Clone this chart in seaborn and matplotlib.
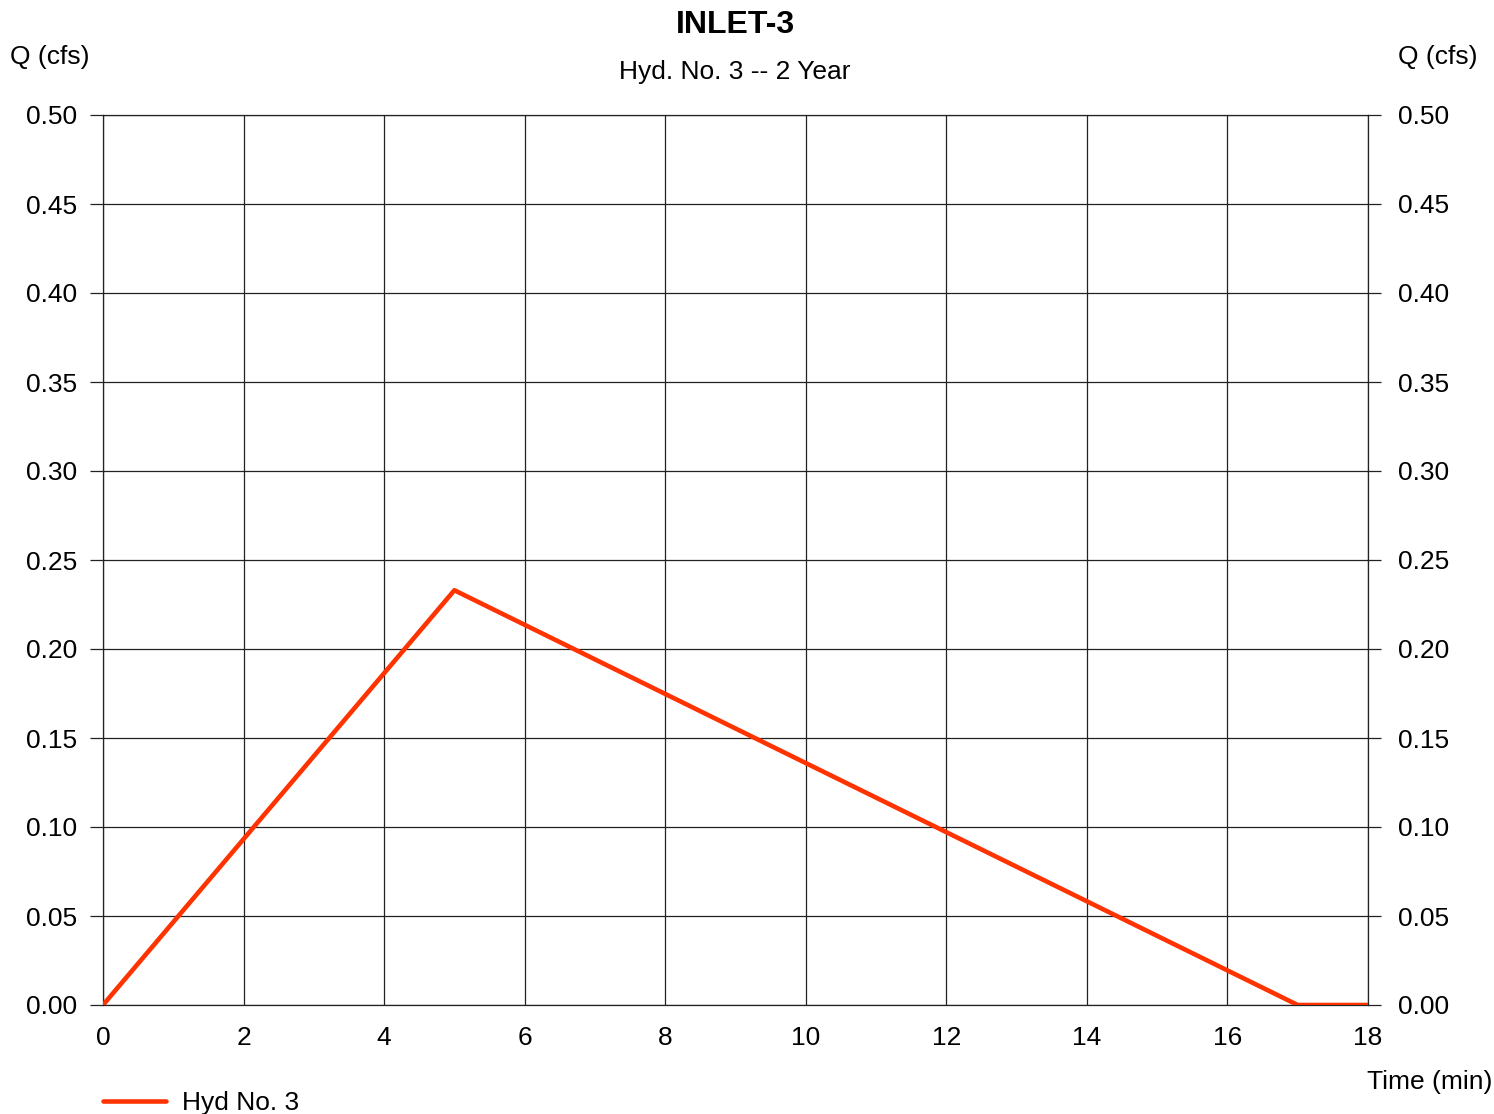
import pandas as pd
import seaborn as sns
import matplotlib.pyplot as plt

# hydrograph points
time_min = [0, 5, 17, 18]
q_cfs = [0.0, 0.233, 0.0, 0.0]
x_ticks = [0, 2, 4, 6, 8, 10, 12, 14, 16, 18]
y_ticks = [0.00, 0.05, 0.10, 0.15, 0.20, 0.25, 0.30, 0.35, 0.40, 0.45, 0.50]

df = pd.DataFrame({"Time": time_min, "Q": q_cfs})

sns.set_style("white")
plt.rcParams['font.family'] = ['Liberation Sans', 'DejaVu Sans']
plt.rcParams['text.color'] = 'black'
plt.rcParams['xtick.color'] = 'black'
plt.rcParams['ytick.color'] = 'black'
plt.rcParams['axes.labelcolor'] = 'black'

FS = 19
GRID = "#222222"

fig = plt.figure(figsize=(14.94, 11.14), dpi=100)
ax = fig.add_axes([103/1494, 1 - 1005/1114, (1368-103)/1494, (1005-115)/1114])

sns.lineplot(data=df, x="Time", y="Q", ax=ax, color="#FF3300", linewidth=3.3,
             label="Hyd No. 3", sort=False, solid_capstyle="round", zorder=5)

ax.set_xlim(0, 18)
ax.set_ylim(0, 0.5)
ax.set_xticks(x_ticks)
ax.set_yticks(y_ticks)
ax.set_yticklabels([f"{v:.2f}" for v in y_ticks])
ax.grid(True, color=GRID, linewidth=0.9)
for s in ax.spines.values():
    s.set_visible(True)
    s.set_color(GRID)
    s.set_linewidth(0.9)
ax.set_xlabel("")
ax.set_ylabel("")

ax.tick_params(axis="y", left=True, length=9.4, width=0.9, color=GRID,
               pad=9, labelsize=FS)
ax.tick_params(axis="x", length=0, pad=15, labelsize=FS)

# right hand axis copies the Q scale
ax2 = ax.twinx()
ax2.set_ylim(0, 0.5)
ax2.set_yticks(y_ticks)
ax2.set_yticklabels([f"{v:.2f}" for v in y_ticks])
ax2.tick_params(axis="y", right=True, length=9.4, width=0.9, color=GRID,
                pad=12, labelsize=FS)
for s in ax2.spines.values():
    s.set_visible(False)

fig.text(735/1494, 1 - 25/1114, "INLET-3", ha="center", va="center",
         fontsize=23, fontweight="bold")
fig.text(735/1494, 1 - 72/1114, "Hyd. No. 3 -- 2 Year", ha="center", va="center",
         fontsize=FS)
fig.text(10/1494, 1 - 57/1114, "Q (cfs)", ha="left", va="center", fontsize=FS)
fig.text(1478/1494, 1 - 57/1114, "Q (cfs)", ha="right", va="center", fontsize=FS)
fig.text(1492/1494, 1 - 1082/1114, "Time (min)", ha="right", va="center", fontsize=FS)

ax.legend(loc="center left", bbox_to_anchor=(103/1494, 1 - 1103/1114),
          bbox_transform=fig.transFigure, frameon=False, fontsize=FS,
          handlelength=2.4, handletextpad=0.6, borderpad=0, borderaxespad=0)

fig.savefig("out.png", dpi=100)
